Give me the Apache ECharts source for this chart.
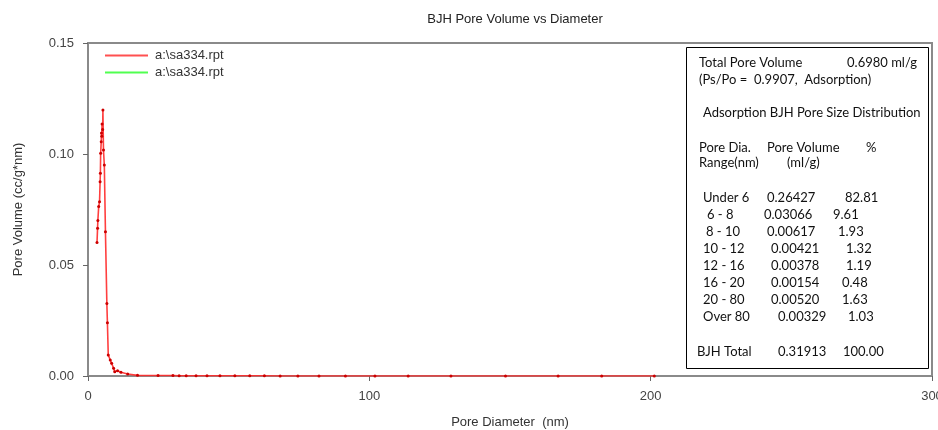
<!DOCTYPE html>
<html>
<head>
<meta charset="utf-8">
<script src="https://cdn.jsdelivr.net/npm/echarts@6/dist/echarts.min.js"></script>
<style>html,body{margin:0;padding:0;background:#fff}#c{width:938px;height:430px}</style>
</head>
<body>
<div id="c"></div>
<script>
// ---- data ----
var chartTitle = 'BJH Pore Volume vs Diameter';
var fileLabel = 'a:\\sa334.rpt';
var seriesNames = ['Adsorption', 'Desorption'];
var diameters = [3.2,3.4,3.5,3.8,4.1,4.3,4.4,4.5,4.7,4.8,4.9,5.0,5.2,5.3,5.5,5.8,6.2,6.7,6.9,7.2,7.9,8.4,9.1,9.5,10.5,11.7,14.1,17.6,
  24.9,30.2,32.4,34.9,38.4,42.3,46.9,52.2,57.5,62.7,68.3,74.6,82.1,91.5,102.0,113.8,129.0,148.4,167.1,182.6,201.3];
var poreVolumes = [0.0601,0.0665,0.0700,0.0763,0.0785,0.0875,0.0913,0.1003,0.1055,0.1095,0.1080,0.1135,0.1110,0.1198,0.1018,0.0950,0.0650,0.0327,0.0240,0.0095,0.0072,0.0057,0.0035,0.0019,0.0024,0.0017,0.0009,0.0003,
  0.0002,0.0002,0.0001,0.0001,0.0001,0.0001,0.0001,0.0001,0.0001,0.0001,0.0000,0.0000,0.0000,0.0000,0.0000,0.0000,0.0000,0.0000,0.0000,0.0000,0.0000];
var desorptionDiameters = [];
var desorptionVolumes = [];
var xTicks = [0, 100, 200, 300];
var yTicks = [0, 0.05, 0.10, 0.15];

var summaryLines = ['Total Pore Volume', '0.6980 ml/g', '(Ps/Po =  0.9907,  Adsorption)', 'Adsorption BJH Pore Size Distribution'];
var headerCols = ['Pore Dia.', 'Pore Volume', '%'];
var headerCols2 = ['Range(nm)', '(ml/g)'];
var rangeLabels = ['Under 6', '6 - 8', '8 - 10', '10 - 12', '12 - 16', '16 - 20', '20 - 80', 'Over 80'];
var rangeVolumes = ['0.26427', '0.03066', '0.00617', '0.00421', '0.00378', '0.00154', '0.00520', '0.00329'];
var rangePercents = ['82.81', '9.61', '1.93', '1.32', '1.19', '0.48', '1.63', '1.03'];
var totalRow = ['BJH Total', '0.31913', '100.00'];

// ---- layout (positions only) ----
var rowX = [[703,767,845],[707,764,833],[706,767,838],[703,771,846],[703,771,846],[703,771,842],[703,771,842],[703,778,848]];
var totalX = [697, 778, 843];

var seriesA = diameters.map(function (d, i) { return [d, poreVolumes[i]]; });
var seriesB = desorptionDiameters.map(function (d, i) { return [d, desorptionVolumes[i]]; });

var FONT = '"Liberation Sans", Arial, sans-serif';
var TFONT = '13px Lato, "Noto Sans", sans-serif';
var texts = [];
function t(str, x, y, align) {
  texts.push({ type: 'text', x: x, y: y, z: 101,
    style: { text: str, font: TFONT, fill: '#111', align: align || 'left', verticalAlign: 'middle' } });
}
t(summaryLines[0], 699, 63);
t(summaryLines[1], 917, 63, 'right');
t(summaryLines[2], 699, 80);
t(summaryLines[3], 703, 113);
t(headerCols[0], 699, 148); t(headerCols[1], 767, 148); t(headerCols[2], 866, 148);
t(headerCols2[0], 699, 163); t(headerCols2[1], 787, 163);
rangeLabels.forEach(function (lab, i) {
  var y = 197.5 + 17 * i;
  t(lab, rowX[i][0], y); t(rangeVolumes[i], rowX[i][1], y); t(rangePercents[i], rowX[i][2], y);
});
t(totalRow[0], totalX[0], 352); t(totalRow[1], totalX[1], 352); t(totalRow[2], totalX[2], 352);

var chart = echarts.init(document.getElementById('c'), null, { renderer: 'canvas' });
chart.setOption({
  animation: false,
  backgroundColor: '#fff',
  title: { text: chartTitle, left: 510, textAlign: 'center', top: 8,
    textStyle: { fontFamily: FONT, fontSize: 13, fontWeight: 'normal', color: '#222' } },
  legend: {
    orient: 'vertical', left: 100, top: 44, itemGap: 4, itemWidth: 43, itemHeight: 2, icon: 'rect',
    data: [
      { name: seriesNames[0], itemStyle: { color: '#ff5050' } },
      { name: seriesNames[1], itemStyle: { color: '#50ff50' } }
    ],
    formatter: function () { return fileLabel; },
    textStyle: { fontFamily: FONT, fontSize: 13, color: '#333', padding: [0, 0, 0, 2] }
  },
  grid: { left: 88, right: 6, top: 43, bottom: 54, outerBoundsMode: 'none', containLabel: false,
    show: true, borderColor: '#8a8a8a', borderWidth: 2 },
  xAxis: {
    type: 'value', min: xTicks[0], max: xTicks[xTicks.length - 1], interval: xTicks[1] - xTicks[0],
    name: 'Pore Diameter  (nm)', nameLocation: 'middle', nameGap: 40,
    nameTextStyle: { fontFamily: FONT, fontSize: 13, color: '#333' },
    axisLine: { show: true, lineStyle: { color: '#8a8a8a', width: 2 } },
    axisTick: { show: true, length: 5, lineStyle: { color: '#666', width: 1 } },
    axisLabel: { margin: 14, fontFamily: FONT, fontSize: 13, color: '#444' },
    splitLine: { show: false }
  },
  yAxis: {
    type: 'value', min: yTicks[0], max: yTicks[yTicks.length - 1], interval: yTicks[1] - yTicks[0],
    name: 'Pore Volume (cc/g*nm)', nameLocation: 'middle', nameGap: 63,
    nameTextStyle: { fontFamily: FONT, fontSize: 13, color: '#333' },
    axisLine: { show: true, lineStyle: { color: '#8a8a8a', width: 2 } },
    axisTick: { show: true, length: 5, lineStyle: { color: '#666', width: 1 } },
    axisLabel: { margin: 14, fontFamily: FONT, fontSize: 13, color: '#444',
      formatter: function (v) { return v.toFixed(2); } },
    splitLine: { show: false }
  },
  series: [
    { name: seriesNames[0], type: 'line', data: seriesA, symbol: 'circle', symbolSize: 3, showSymbol: true,
      lineStyle: { color: '#ff2a2a', width: 1.6, opacity: 0.9 }, itemStyle: { color: '#cc0000' }, z: 5 },
    { name: seriesNames[1], type: 'line', data: seriesB, symbol: 'circle', symbolSize: 3,
      lineStyle: { color: '#33ff33', width: 1.5 }, itemStyle: { color: '#00aa00' } }
  ],
  graphic: [
    { type: 'rect', left: 686, top: 47, z: 100, shape: { width: 242, height: 321 },
      style: { fill: '#fff', stroke: '#000', lineWidth: 1 } }
  ].concat(texts)
});
</script>
</body>
</html>
